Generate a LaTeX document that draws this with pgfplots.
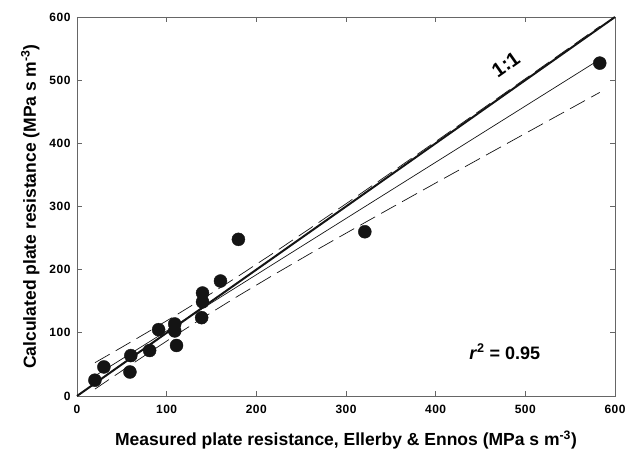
\documentclass[border=0pt]{standalone}
\usepackage{fontspec}
\setmainfont{Liberation Sans}
\usepackage{pgfplots}
\pgfplotsset{compat=1.18}

\definecolor{frame}{gray}{0.4}
\definecolor{ink}{gray}{0.08}

\begin{document}
\begin{tikzpicture}
\begin{axis}[
    name=ax,
    scale only axis, width=538pt, height=379pt,
    xmin=0, xmax=600, ymin=0, ymax=600,
    xtick={0,100,...,600}, ytick={0,100,...,600},
    tick align=inside, major tick length=5pt,
    axis line style={draw=frame, line width=0.8pt},
    every tick/.style={draw=frame, line width=0.8pt},
    /pgf/number format/assume math mode=true,
    tick label style={font=\fontsize{12}{14}\selectfont\bfseries\addfontfeature{LetterSpace=4}},
    xticklabel style={yshift=-6pt},
    yticklabel style={xshift=-3pt},
    label style={font=\fontsize{17.5}{20}\selectfont\bfseries},
    xlabel={Measured plate resistance, Ellerby \& Ennos (MPa s m\textsuperscript{-3})},
    ylabel={Calculated plate resistance (MPa s m\textsuperscript{-3})},
    xlabel style={yshift=-10pt},
    ylabel style={yshift=3pt},
    clip=false,
]
% 95% confidence band (dashed)
\addplot[ink, line width=0.7pt, dash pattern=on 17pt off 7pt] coordinates {
(20,52.7) (50,77.2) (80,102.1) (110,127.6) (146,159.0) (180,189.8) (220,227.2)
(260,265.4) (300,304.3) (350,353.4) (400,402.8) (450,452.5) (500,502.3) (550,552.2) (583,585.2)};
\addplot[ink, line width=0.7pt, dash pattern=on 17pt off 7pt] coordinates {
(20,10.9) (50,39.8) (80,68.3) (110,96.2) (146,128.8) (180,158.6) (220,192.4)
(260,225.4) (300,257.7) (350,297.6) (400,337.2) (450,376.5) (500,415.7) (550,454.8) (583,480.6)};
% regression line
\addplot[ink, line width=0.7pt] coordinates {(20,31.8) (583,532.9)};
% 1:1 line
\addplot[ink, line width=2pt] coordinates {(0,0) (600,600)};
% data
\addplot[only marks, mark=*, mark size=6.5pt, mark options={fill=ink, draw=ink}] coordinates {
(20,25) (30,46) (60,64) (59,38) (81,72) (91,105) (109,114) (109,103) (111,80)
(140,163) (140,149) (139,124) (160,182) (180,248) (321,260) (583,527)};
\node[rotate=35.2, font=\fontsize{20}{22}\selectfont\bfseries] at (axis cs:478,525) {1:1};
\node[font=\fontsize{18}{20}\selectfont\bfseries] at (axis cs:477,70) {\textit{r}\textsuperscript{2} = 0.95};
\end{axis}
\pgfresetboundingbox
\path[use as bounding box] ([shift={(-77pt,-56pt)}]ax.south west) rectangle ([shift={(20pt,17pt)}]ax.north east);
\end{tikzpicture}
\end{document}
